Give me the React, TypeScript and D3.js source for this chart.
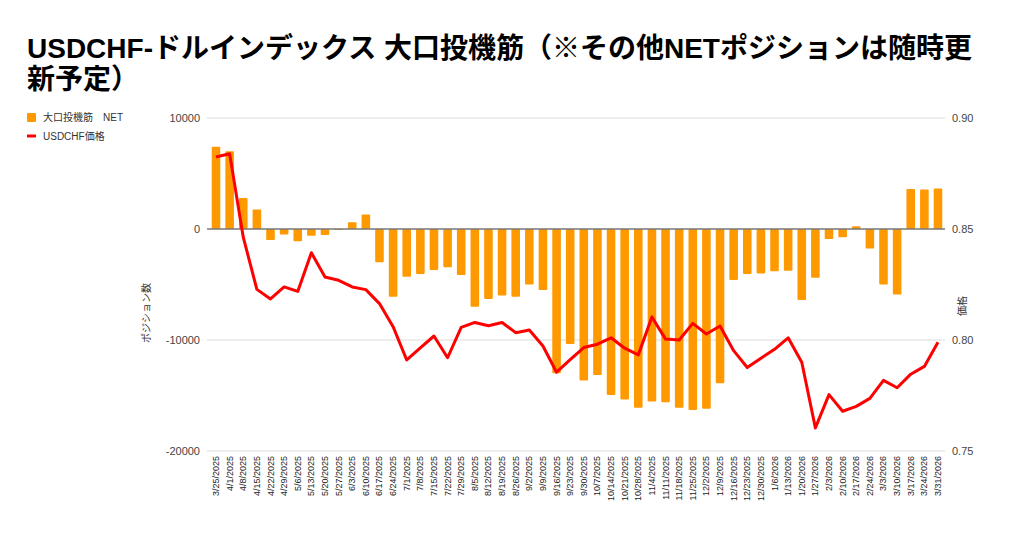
import * as d3 from 'd3';

const dates = [
  '3/25/2025', '4/1/2025', '4/8/2025', '4/15/2025', '4/22/2025', '4/29/2025', '5/6/2025', '5/13/2025',
  '5/20/2025', '5/27/2025', '6/3/2025', '6/10/2025', '6/17/2025', '6/24/2025', '7/1/2025', '7/8/2025',
  '7/15/2025', '7/22/2025', '7/29/2025', '8/5/2025', '8/12/2025', '8/19/2025', '8/26/2025', '9/2/2025',
  '9/9/2025', '9/16/2025', '9/23/2025', '9/30/2025', '10/7/2025', '10/14/2025', '10/21/2025', '10/28/2025',
  '11/4/2025', '11/11/2025', '11/18/2025', '11/25/2025', '12/2/2025', '12/9/2025', '12/16/2025', '12/23/2025',
  '12/30/2025', '1/6/2026', '1/13/2026', '1/20/2026', '1/27/2026', '2/3/2026', '2/10/2026', '2/17/2026',
  '2/24/2026', '3/3/2026', '3/10/2026', '3/17/2026', '3/24/2026', '3/31/2026',
];

// 大口投機筋 NET (contracts)
const netPositions = [
  7400, 7000, 2800, 1750, -1000, -500, -1100, -600,
  -550, -100, 600, 1300, -3000, -6100, -4300, -4050,
  -3700, -3450, -4150, -7000, -6300, -6000, -6100, -5000,
  -5500, -13000, -10350, -13650, -13150, -14950, -15350, -16100,
  -15550, -15600, -16100, -16300, -16200, -13900, -4600, -4050,
  -4000, -3800, -3750, -6400, -4400, -900, -750, 250,
  -1750, -5000, -5900, 3600, 3550, 3650,
];

// USDCHF price
const prices = [
  0.8824, 0.8839, 0.8463, 0.8228, 0.8185, 0.8239, 0.8219, 0.8393,
  0.8284, 0.8269, 0.8239, 0.8227, 0.8164, 0.806, 0.791, 0.7965,
  0.8018, 0.792, 0.8057, 0.8079, 0.8064, 0.8079, 0.8033, 0.8045,
  0.7973, 0.7855, 0.7912, 0.7966, 0.7981, 0.801, 0.7963, 0.7933,
  0.8104, 0.8004, 0.8, 0.8075, 0.8027, 0.8063, 0.7952, 0.7876,
  0.7918, 0.7958, 0.801, 0.79, 0.7604, 0.7754, 0.7679, 0.7701,
  0.7737, 0.7818, 0.7785, 0.7846, 0.7881, 0.799,
];

const leftTicks = [-20000, -10000, 0, 10000];
const rightTicks = [0.75, 0.8, 0.85, 0.9];

const titleLine1 = 'USDCHF-ドルインデックス 大口投機筋（※その他NETポジションは随時更';
const titleLine2 = '新予定）';
const barLabel = '大口投機筋　NET';
const lineLabel = 'USDCHF価格';

const W = 1024;
const H = 534;
const plot = { left: 209, right: 945, top: 118, bottom: 451 };
const axisFont = '"Liberation Sans", Arial, "Noto Sans CJK JP", sans-serif';

export default function App() {
  const x = d3.scaleBand<string>()
    .domain(dates)
    .range([plot.left, plot.right])
    .paddingInner(0.37)
    .paddingOuter(0.2);

  const yLeft = d3.scaleLinear().domain([-20000, 10000]).range([plot.bottom, plot.top]);
  const yRight = d3.scaleLinear().domain([0.75, 0.9]).range([plot.bottom, plot.top]);

  const line = d3.line<number>()
    .x((_, i) => (x(dates[i]) ?? 0) + x.bandwidth() / 2)
    .y(d => yRight(d));

  return (
    <div style={{ position: 'absolute', left: 0, top: 0 }}>
      <svg width={W} height={H} style={{ display: 'block', background: '#fff' }}>
        {/* title, two lines */}
        <g fontFamily='"Liberation Sans", Arial, "Noto Sans CJK JP", sans-serif' fontWeight="bold" fontSize={28} fill="#000">
          <text x={27} y={58}>{titleLine1}</text>
          <text x={27} y={89}>{titleLine2}</text>
        </g>

        {/* legend */}
        <g fontFamily={axisFont} fontSize={10} fill="#333">
          <rect x={27} y={113} width={9} height={9} rx={1} fill="#ff9900" />
          <text x={43} y={121}>{barLabel}</text>
          <line x1={27} x2={36} y1={136} y2={136} stroke="#ff0000" strokeWidth={3} />
          <text x={43} y={140}>{lineLabel}</text>
        </g>

        {/* gridlines */}
        {leftTicks.filter(t => t !== 0).map(t => (
          <line key={t} x1={plot.left - 2} x2={plot.right} y1={yLeft(t)} y2={yLeft(t)} stroke="#dcdcdc" strokeWidth={1} />
        ))}

        {/* bars */}
        {netPositions.map((v, i) => {
          const y0 = yLeft(0);
          const y1 = yLeft(v);
          return (
            <rect
              key={dates[i]}
              x={x(dates[i])}
              y={Math.min(y0, y1)}
              width={x.bandwidth()}
              height={Math.max(1, Math.abs(y1 - y0))}
              rx={1}
              fill="#ff9900"
            />
          );
        })}

        {/* zero line */}
        <line x1={plot.left - 2} x2={plot.right} y1={yLeft(0)} y2={yLeft(0)} stroke="#777" strokeWidth={1.5} />

        {/* price line */}
        <path d={line(prices) ?? ''} fill="none" stroke="#ff0000" strokeWidth={3} strokeLinejoin="round" />

        {/* left axis */}
        <g fontFamily={axisFont} fontSize={11} fill="#444" textAnchor="end">
          {leftTicks.map(t => (
            <text key={t} x={200} y={yLeft(t)} dy="0.35em">{t}</text>
          ))}
        </g>
        <text
          transform={`translate(150,313) rotate(-90)`}
          textAnchor="middle"
          fontFamily={axisFont}
          fontSize={10}
          fill="#333"
        >ポジション数</text>

        {/* right axis */}
        <g fontFamily={axisFont} fontSize={11} fill="#444" textAnchor="start">
          {rightTicks.map(t => (
            <text key={t} x={952} y={yRight(t)} dy="0.35em">{d3.format('.2f')(t)}</text>
          ))}
        </g>
        <text
          transform={`translate(966,306) rotate(-90)`}
          textAnchor="middle"
          fontFamily={axisFont}
          fontSize={10}
          fill="#333"
        >価格</text>

        {/* x axis labels */}
        <g fontFamily={axisFont} fontSize={9} fill="#222" textAnchor="end">
          {dates.map(d => (
            <text
              key={d}
              transform={`translate(${(x(d) ?? 0) + x.bandwidth() / 2 + 3},456) rotate(-90)`}
            >{d}</text>
          ))}
        </g>
      </svg>
    </div>
  );
}
